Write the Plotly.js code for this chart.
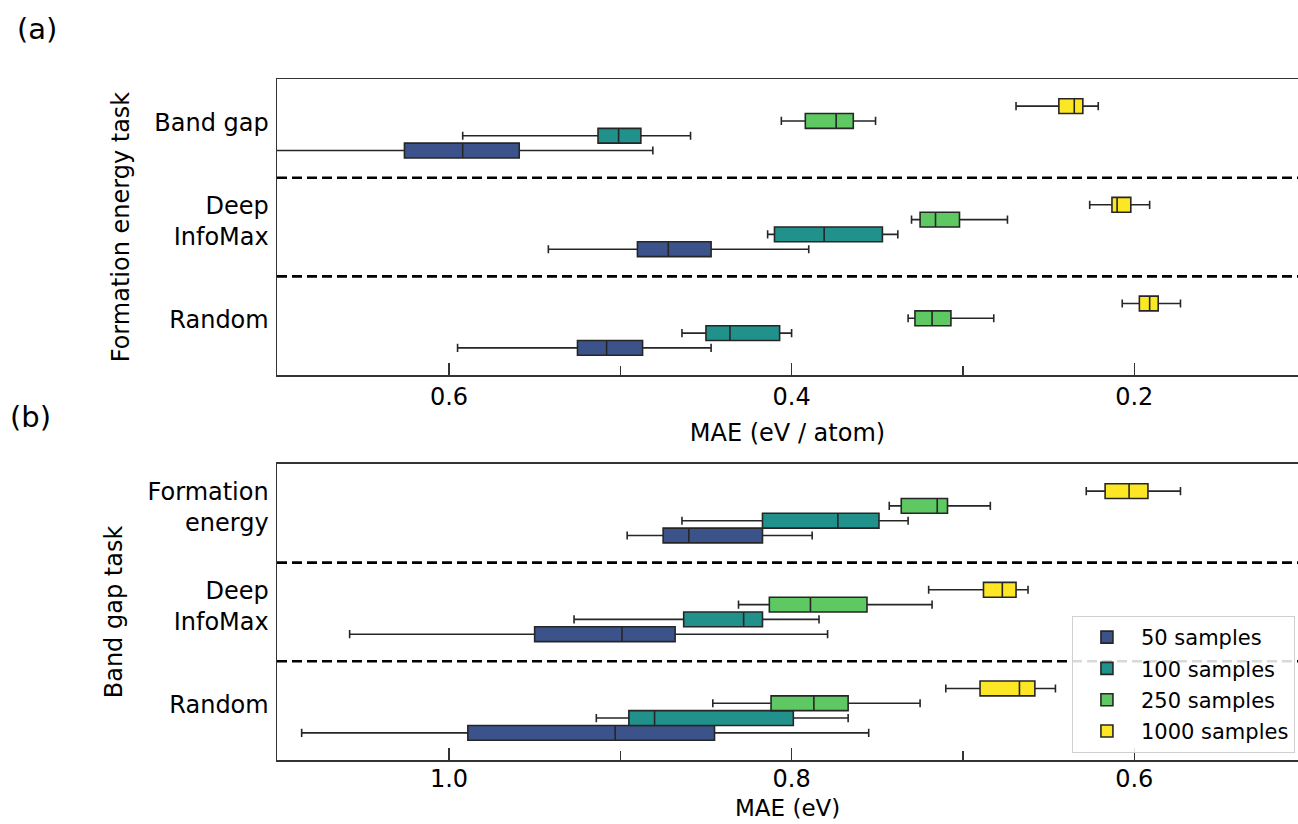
<!DOCTYPE html>
<html>
<head>
<meta charset="utf-8">
<script src="https://cdn.plot.ly/plotly-3.0.1.min.js"></script>
<style>html,body{margin:0;padding:0;background:#fff;}#chart{width:1298px;height:824px;}</style>
</head>
<body>
<div id="chart"></div>
<script>
// ---------- data ----------
const seriesNames = ["50 samples", "100 samples", "250 samples", "1000 samples"];
const seriesColors = ["#3b528b", "#21918c", "#5ec962", "#fde725"];

// Panel (a): Formation energy task, MAE (eV / atom)
const catsA = ["Random", "Deep<br>InfoMax", "Band gap"];
// order of each array follows catsA
const a50_low  = [0.447, 0.390, 0.481];
const a50_q1   = [0.487, 0.447, 0.559];
const a50_med  = [0.508, 0.472, 0.592];
const a50_q3   = [0.525, 0.490, 0.626];
const a50_high = [0.595, 0.542, 0.725];

const a100_low  = [0.400, 0.338, 0.459];
const a100_q1   = [0.407, 0.347, 0.488];
const a100_med  = [0.436, 0.381, 0.501];
const a100_q3   = [0.450, 0.410, 0.513];
const a100_high = [0.464, 0.414, 0.592];

const a250_low  = [0.282, 0.274, 0.351];
const a250_q1   = [0.307, 0.302, 0.364];
const a250_med  = [0.318, 0.316, 0.374];
const a250_q3   = [0.328, 0.325, 0.392];
const a250_high = [0.332, 0.330, 0.406];

const a1000_low  = [0.173, 0.191, 0.221];
const a1000_q1   = [0.186, 0.202, 0.230];
const a1000_med  = [0.191, 0.210, 0.235];
const a1000_q3   = [0.197, 0.213, 0.244];
const a1000_high = [0.207, 0.226, 0.269];

// Panel (b): Band gap task, MAE (eV)
const catsB = ["Random", "Deep<br>InfoMax", "Formation<br>energy"];
const b50_low  = [0.755, 0.779, 0.788];
const b50_q1   = [0.845, 0.868, 0.817];
const b50_med  = [0.903, 0.899, 0.860];
const b50_q3   = [0.989, 0.950, 0.875];
const b50_high = [1.086, 1.058, 0.896];

const b100_low  = [0.767, 0.784, 0.732];
const b100_q1   = [0.799, 0.817, 0.749];
const b100_med  = [0.880, 0.828, 0.773];
const b100_q3   = [0.895, 0.863, 0.817];
const b100_high = [0.914, 0.927, 0.864];

const b250_low  = [0.725, 0.718, 0.684];
const b250_q1   = [0.767, 0.756, 0.709];
const b250_med  = [0.787, 0.789, 0.715];
const b250_q3   = [0.812, 0.813, 0.736];
const b250_high = [0.846, 0.831, 0.743];

const b1000_low  = [0.646, 0.662, 0.573];
const b1000_q1   = [0.658, 0.669, 0.592];
const b1000_med  = [0.667, 0.677, 0.603];
const b1000_q3   = [0.690, 0.688, 0.617];
const b1000_high = [0.710, 0.720, 0.628];

// ---------- traces ----------
const statsA = [
  [a50_low, a50_q1, a50_med, a50_q3, a50_high],
  [a100_low, a100_q1, a100_med, a100_q3, a100_high],
  [a250_low, a250_q1, a250_med, a250_q3, a250_high],
  [a1000_low, a1000_q1, a1000_med, a1000_q3, a1000_high]
];
const statsB = [
  [b50_low, b50_q1, b50_med, b50_q3, b50_high],
  [b100_low, b100_q1, b100_med, b100_q3, b100_high],
  [b250_low, b250_q1, b250_med, b250_q3, b250_high],
  [b1000_low, b1000_q1, b1000_med, b1000_q3, b1000_high]
];

function makeBox(stats, cats, i, xa, ya, panel, showLegend) {
  return {
    type: "box", orientation: "h",
    name: seriesNames[i],
    legendgroup: "g" + i,
    showlegend: showLegend,
    alignmentgroup: panel,
    offsetgroup: panel + i,
    y: cats,
    lowerfence: stats[0], q1: stats[1], median: stats[2], q3: stats[3], upperfence: stats[4],
    fillcolor: seriesColors[i],
    line: {color: "#262626", width: 1.6},
    whiskerwidth: 0.55,
    boxpoints: false,
    xaxis: xa, yaxis: ya,
    hoverinfo: "skip"
  };
}

const traces = [];
for (let i = 0; i < 4; i++) traces.push(makeBox(statsA[i], catsA, i, "x", "y", "A", false));
for (let i = 0; i < 4; i++) traces.push(makeBox(statsB[i], catsB, i, "x2", "y2", "B", true));

const tickFont = {family: "DejaVu Sans", size: 24, color: "#000"};
const axisLine = "#333333";

function xAxis(range, titleText, anchor, standoff, labelStandoff) {
  return {
    range: range, anchor: anchor,
    showline: true, mirror: true, linecolor: axisLine, linewidth: 1.5,
    showgrid: false, zeroline: false,
    ticks: "inside", ticklen: 12, tickwidth: 1.3, tickcolor: axisLine,
    tick0: 0, dtick: 0.2, tickformat: ".1f",
    minor: {dtick: 0.1, ticks: "inside", ticklen: 9, tickwidth: 1.3, tickcolor: axisLine, showgrid: false},
    tickfont: tickFont, ticklabelstandoff: labelStandoff,
    title: {text: titleText, font: tickFont, standoff: standoff}
  };
}
function yAxis(cats, domain, titleText, anchor) {
  return {
    type: "category", categoryorder: "array", categoryarray: cats,
    range: [-0.5, 2.5], domain: domain, anchor: anchor,
    showline: true, mirror: false, linecolor: axisLine, linewidth: 1.5,
    showgrid: false, zeroline: false, ticks: "",
    tickfont: tickFont, ticklabelstandoff: 2, ticklabelshift: -6,
    title: {text: titleText, font: tickFont, standoff: 18}
  };
}

const dash = {color: "#000", width: 2.6, dash: "10px,5px"};
const shapes = [];
[0.5, 1.5].forEach(v => {
  shapes.push({type: "line", xref: "x domain", x0: 0, x1: 1, yref: "y", y0: v, y1: v, line: dash, layer: "below"});
  shapes.push({type: "line", xref: "x2 domain", x0: 0, x1: 1, yref: "y2", y0: v, y1: v, line: dash, layer: "below"});
});

const layout = {
  width: 1298, height: 824,
  margin: {l: 277, r: 0, t: 79, b: 64},
  paper_bgcolor: "#fff", plot_bgcolor: "#fff",
  font: {family: "DejaVu Sans", size: 24, color: "#000"},
  boxmode: "group", boxgap: 0.4, boxgroupgap: 0,
  showlegend: true,
  legend: {
    x: 0.997, xanchor: "right", y: 0.2115, yanchor: "top",
    bgcolor: "rgba(255,255,255,0.85)", bordercolor: "#d0d0d0", borderwidth: 1,
    font: {family: "DejaVu Sans", size: 21, color: "#000"},
    tracegroupgap: 1, traceorder: "grouped", itemwidth: 58
  },
  xaxis: xAxis([0.7004, 0.1044], "MAE (eV / atom)", "y", 14, 0),
  yaxis: yAxis(catsA, [0.5653, 1], "Formation energy task", "x"),
  xaxis2: xAxis([1.1004, 0.5044], "", "y2", 14, -3),
  yaxis2: yAxis(catsB, [0, 0.4347], "Band gap task", "x2"),
  shapes: shapes,
  annotations: [
    {text: "(a)", xref: "paper", yref: "paper", x: -0.2566, y: 1.074, xanchor: "left", yanchor: "middle", showarrow: false, font: {family: "DejaVu Sans", size: 29, color: "#000"}},
    {text: "(b)", xref: "paper", yref: "paper", x: -0.2635, y: 0.504, xanchor: "left", yanchor: "middle", showarrow: false, font: {family: "DejaVu Sans", size: 29, color: "#000"}},
    {text: "MAE (eV)", xref: "x2 domain", yref: "paper", x: 0.5, y: -0.0712, xanchor: "center", yanchor: "middle", showarrow: false, font: {family: "DejaVu Sans", size: 23, color: "#000"}}
  ]
};

Plotly.newPlot("chart", traces, layout, {displayModeBar: false, staticPlot: true});
</script>
</body>
</html>
